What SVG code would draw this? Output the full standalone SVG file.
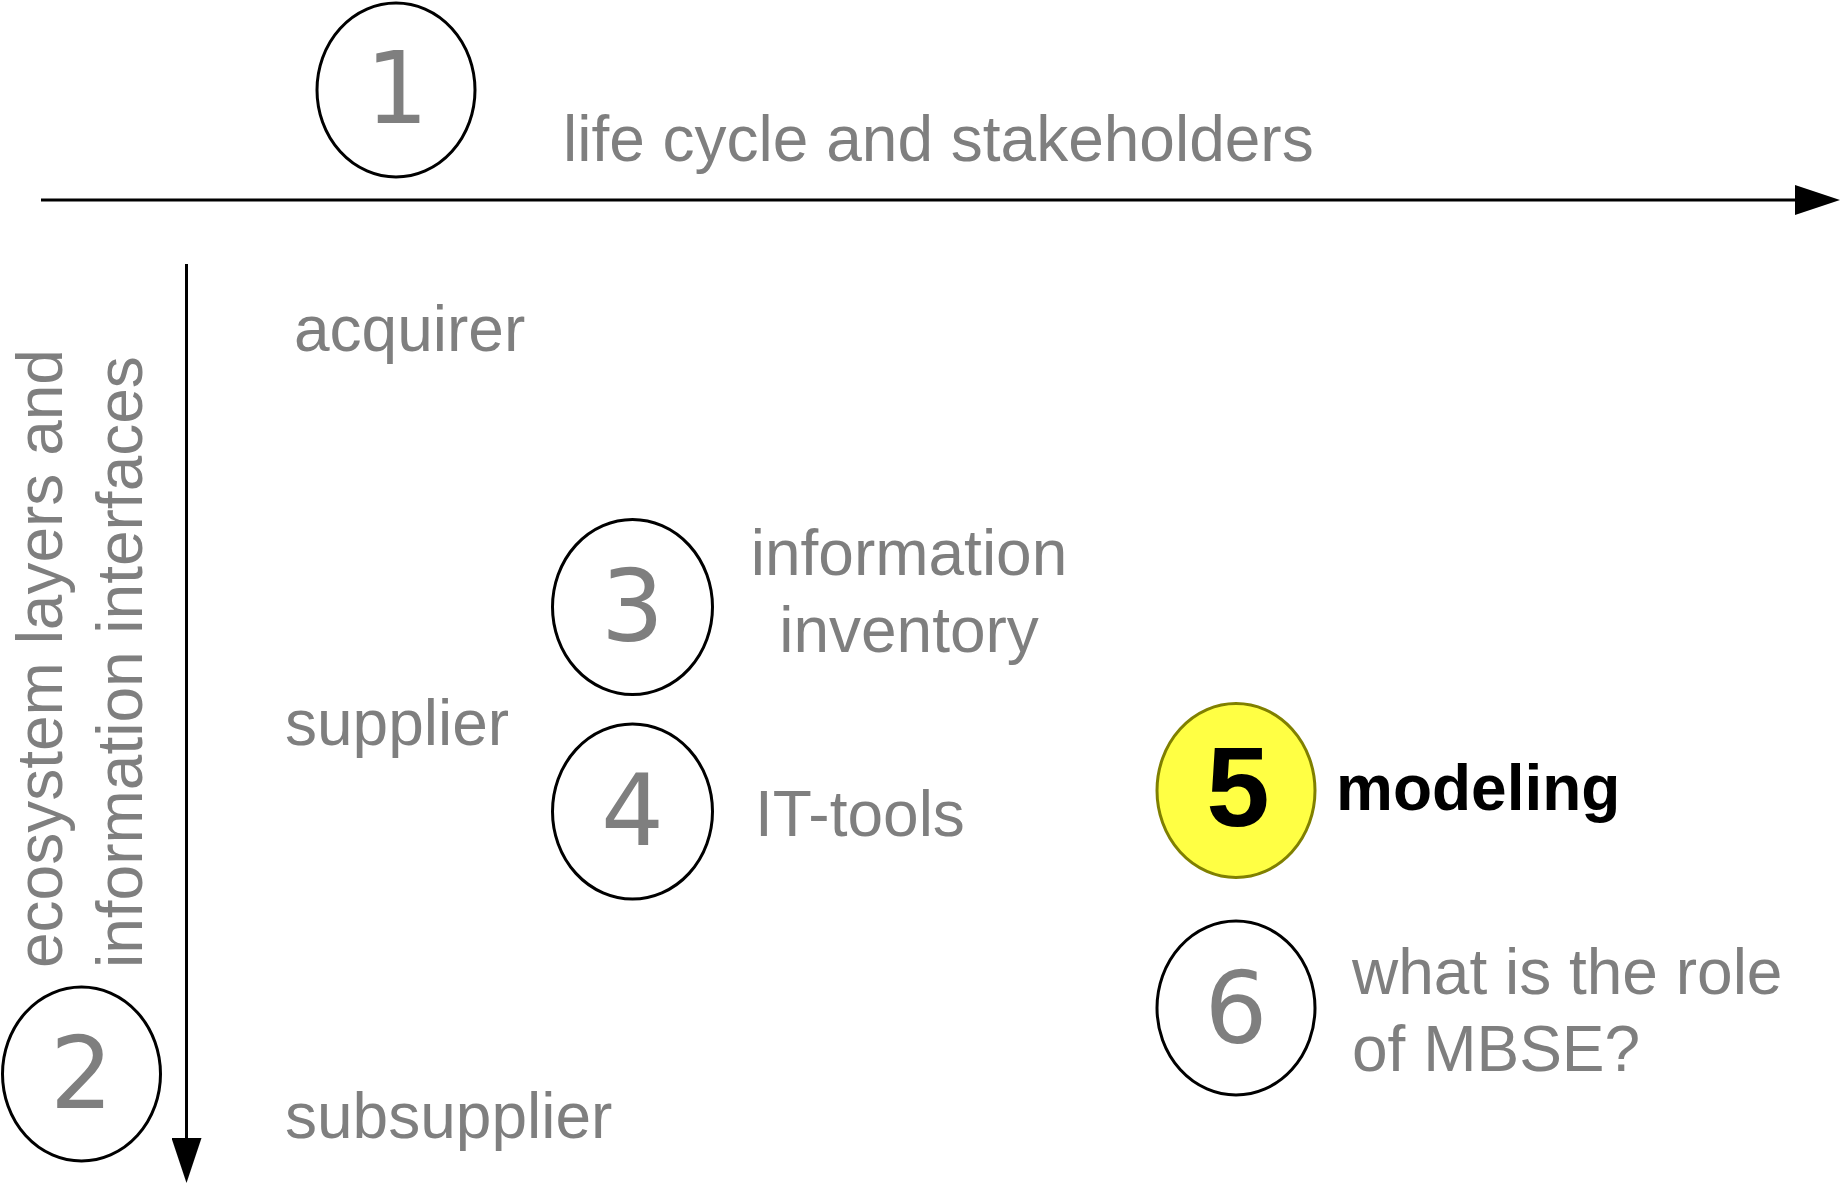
<svg xmlns="http://www.w3.org/2000/svg" width="1841" height="1184" viewBox="0 0 1841 1184">
<style>
.lbl{font-family:"Liberation Sans",Arial,sans-serif;font-size:64px;fill:#7f7f7f}
.num{font-family:"DejaVu Sans",sans-serif;font-size:99px;fill:#7f7f7f;text-anchor:middle}
.ring{fill:#ffffff;stroke:#000000;stroke-width:3}
.axis{stroke:#000000;stroke-width:3;fill:none}
</style>
<defs>
<marker id="ah" markerUnits="userSpaceOnUse" markerWidth="45" markerHeight="30" refX="1" refY="15" orient="auto" viewBox="0 0 45 30">
<path d="M0,0 L45,15 L0,30 z" fill="#000000"/>
</marker>
</defs>
<g id="connectors">
<line class="axis" x1="41" y1="200" x2="1796" y2="200" marker-end="url(#ah)"/>
<line class="axis" x1="186.5" y1="264" x2="186.5" y2="1139" marker-end="url(#ah)"/>
</g>
<g id="node1">
<ellipse class="ring" cx="396" cy="90" rx="79" ry="87"/>
<text class="num" x="397" y="123">1</text>
<text class="lbl" x="563" y="161">life cycle and stakeholders</text>
</g>
<g id="node2">
<ellipse class="ring" cx="81.5" cy="1074" rx="79" ry="87"/>
<text class="num" x="81.5" y="1108">2</text>
<text class="lbl" transform="translate(62,968) rotate(-90)">ecosystem layers and</text>
<text class="lbl" transform="translate(141.5,968) rotate(-90)">information interfaces</text>
</g>
<g id="layers">
<text class="lbl" x="294" y="351">acquirer</text>
<text class="lbl" x="285" y="745">supplier</text>
<text class="lbl" x="285" y="1138">subsupplier</text>
</g>
<g id="node3">
<ellipse class="ring" cx="632.5" cy="607" rx="80" ry="87.5"/>
<text class="num" x="632.5" y="641">3</text>
<text class="lbl" x="909" y="575" text-anchor="middle">information</text>
<text class="lbl" x="909" y="652" text-anchor="middle">inventory</text>
</g>
<g id="node4">
<ellipse class="ring" cx="632.5" cy="811.5" rx="80" ry="87.5"/>
<text class="num" x="632.5" y="845">4</text>
<text class="lbl" x="755" y="836">IT-tools</text>
</g>
<g id="node5">
<ellipse cx="1236" cy="790.5" rx="79" ry="87" fill="#ffff44" stroke="#808000" stroke-width="3"/>
<text x="1238" y="826" font-family="'Liberation Sans',Arial,sans-serif" font-weight="bold" font-size="114" fill="#000000" text-anchor="middle">5</text>
<text x="1336" y="810" font-family="'Liberation Sans',Arial,sans-serif" font-weight="bold" font-size="64" fill="#000000">modeling</text>
</g>
<g id="node6">
<ellipse class="ring" cx="1236" cy="1008" rx="79" ry="87"/>
<text class="num" x="1236" y="1043">6</text>
<text class="lbl" x="1352" y="994">what is the role</text>
<text class="lbl" x="1352" y="1071">of MBSE?</text>
</g>
</svg>
